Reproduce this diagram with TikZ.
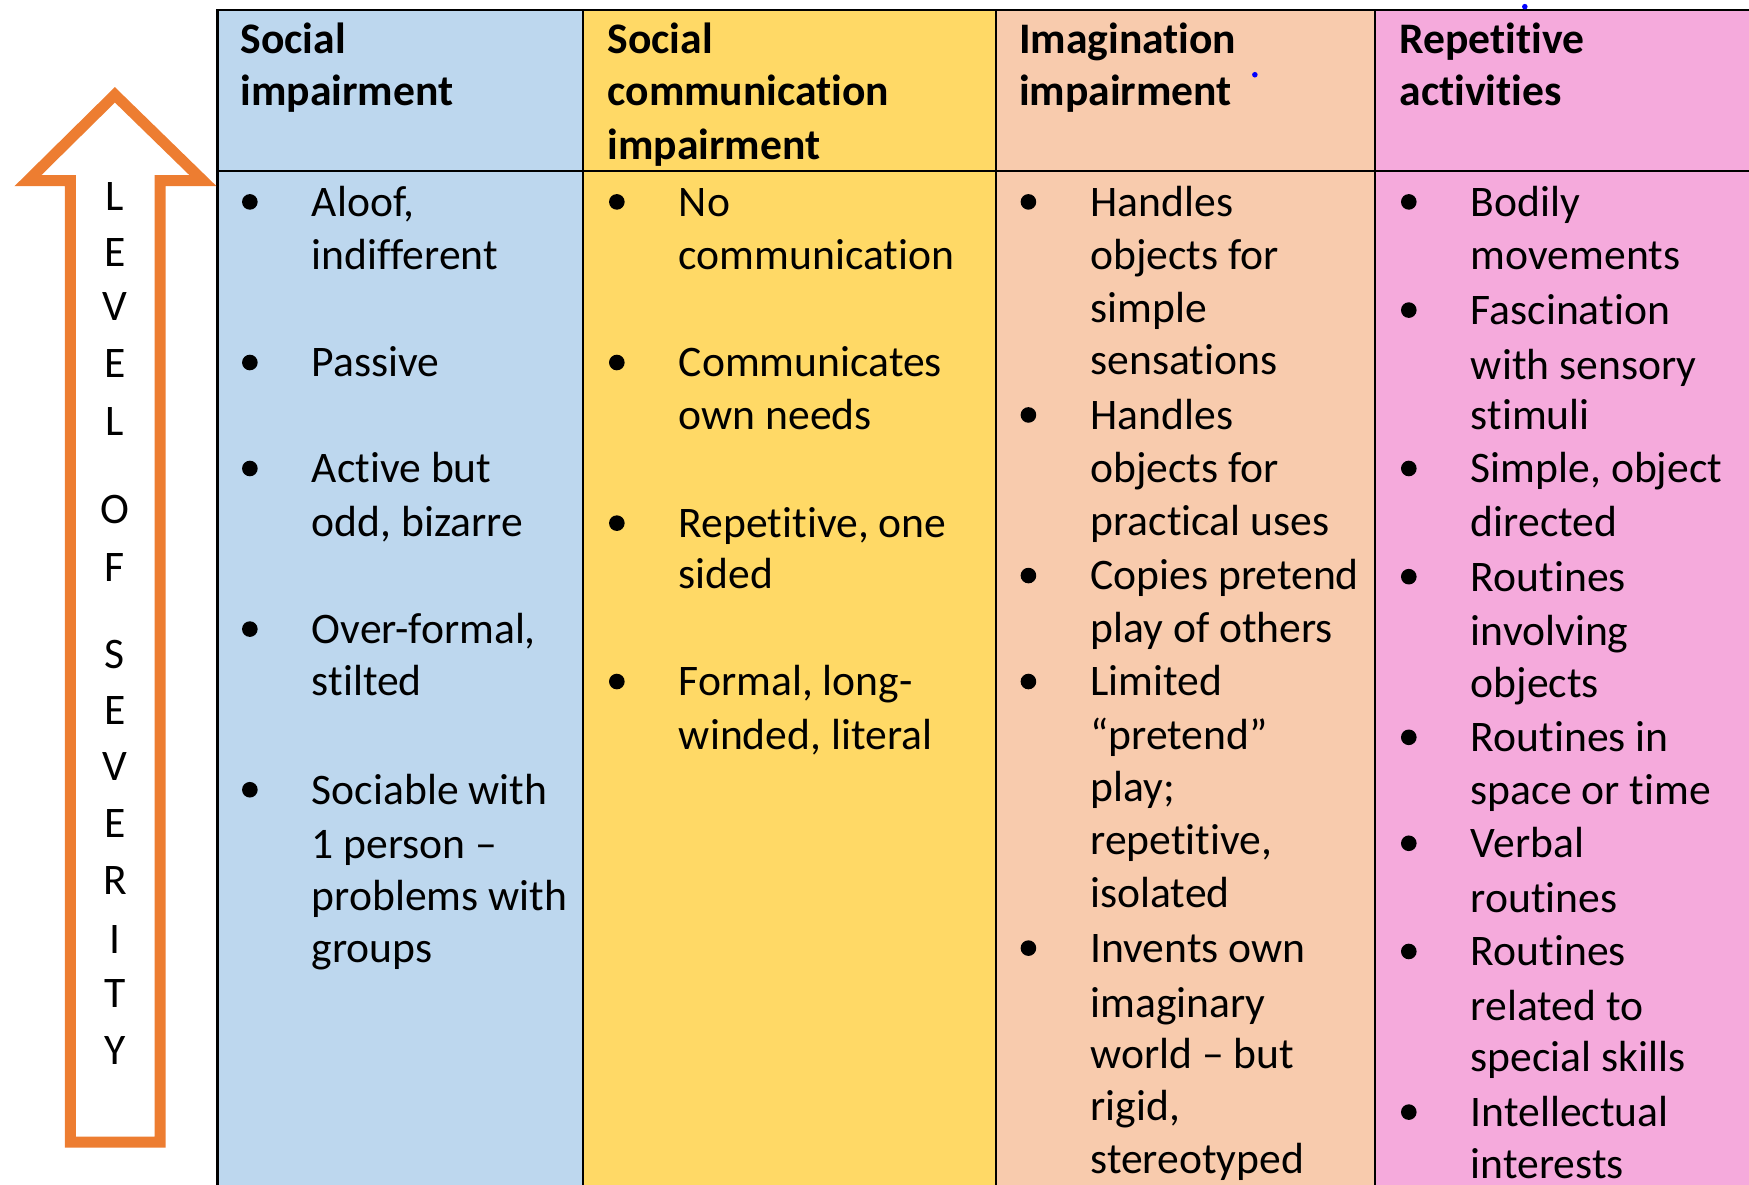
\documentclass[tikz,border=0pt]{standalone}
\usepackage{fontspec}
\setmainfont{Carlito}[Ligatures=NoCommon]
\definecolor{socblue}{HTML}{BDD7EE}
\definecolor{comyellow}{HTML}{FFD966}
\definecolor{imgpeach}{HTML}{F8CBAD}
\definecolor{reppink}{HTML}{F5AADC}
\definecolor{sevorange}{HTML}{ED7D31}
\tikzset{
  cell/.style={anchor=mid west, inner sep=0pt, yshift=-0.6mm,
    font=\fontsize{12.4}{15}\selectfont},
  head/.style={cell, font=\fontsize{12.4}{15}\selectfont\bfseries},
  letter/.style={inner sep=0pt, font=\fontsize{12.4}{15}\selectfont},
  grid/.style={draw=black, line width=0.6pt},
}
\begin{document}
\begin{tikzpicture}[x=0.1115mm, y=-0.1115mm]
    \clip (0,0) rectangle (1568,1062);

    % column backgrounds
    \fill[socblue] (195,9) rectangle (523,1080);
    \fill[comyellow] (523,9) rectangle (893,1080);
    \fill[imgpeach] (893,9) rectangle (1233,1080);
    \fill[reppink] (1233,9) rectangle (1580,1080);

    % table rules
    \draw[grid] (195,1080) -- (195,9) -- (1580,9);
    \draw[grid] (195,153) -- (1580,153);
    \foreach \x in {523,893,1233}
        \draw[grid] (\x,9) -- (\x,1080);

    % headers
    \node[head] (h1a) at (215,35) {Social};
    \node[head] (h1b) at (215,82) {impairment};
    \node[head] (h2a) at (544,35) {Social};
    \node[head] (h2b) at (544,82) {communication};
    \node[head] (h2c) at (544,130) {impairment};
    \node[head] (h3a) at (913,35) {Imagination};
    \node[head] (h3b) at (913,82) {impairment};
    \node[head] (h4a) at (1254,35) {Repetitive};
    \node[head] (h4b) at (1254,82) {activities};

    % stray dots
    \fill[blue] (1125,67) circle (2.5);
    \fill[blue] (1367,6) circle (2.5);

    % social impairment
    \foreach \y in {181,325,420,564,708}
        \fill (224,\y) circle (7);
    \foreach \y/\t [count=\i] in {181/{Aloof,},229/indifferent,325/Passive,
        420/Active but,468/{odd, bizarre},564/{Over-formal,},611/stilted,
        708/Sociable with,757/1 person –,803/problems with,850/groups}
        \node[cell] (soc-\i) at (279,\y) {\t};

    % social communication impairment
    \foreach \y in {181,325,469,611}
        \fill (553,\y) circle (7);
    \foreach \y/\t [count=\i] in {181/No,229/communication,325/Communicates,
        372/own needs,469/{Repetitive, one},515/sided,611/{Formal, long-},
        659/{winded, literal}}
        \node[cell] (com-\i) at (608,\y) {\t};

    % imagination impairment
    \foreach \y in {181,372,516,611,850}
        \fill (922,\y) circle (7);
    \foreach \y/\t [count=\i] in {181/Handles,229/objects for,276/simple,
        323/sensations,372/Handles,420/objects for,467/practical uses,
        516/Copies pretend,563/play of others,611/Limited,659/“pretend”,
        706/play;,753/{repetitive,},801/isolated,850/Invents own,
        899/imaginary,945/world – but,992/{rigid,},1039/stereotyped}
        \node[cell] (img-\i) at (977,\y) {\t};

    % repetitive activities
    \foreach \y in {181,278,420,517,661,756,853,997}
        \fill (1263,\y) circle (7);
    \foreach \y/\t [count=\i] in {181/Bodily,229/movements,278/Fascination,
        327/with sensory,372/stimuli,420/{Simple, object},468/directed,
        517/Routines,566/involving,612/objects,661/Routines in,
        708/space or time,756/Verbal,805/routines,853/Routines,
        902/related to,948/special skills,997/Intellectual,1044/interests}
        \node[cell] (rep-\i) at (1318,\y) {\t};

    % severity arrow
    \draw[sevorange, fill=white, line width=1.1mm, miter limit=10]
        (103,85) -- (182,162) -- (143.5,162) -- (143.5,1024)
        -- (63,1024) -- (63,162) -- (25,162) -- cycle;
    \foreach \y/\l in {176/L,226/E,275/V,326/E,378/L,457/O,509/F,587/S,
        637/E,687/V,738/E,789/R,842/I,891/T,942/Y}
        \node[letter] (sev-\y) at (103,\y) {\l};
\end{tikzpicture}
\end{document}
